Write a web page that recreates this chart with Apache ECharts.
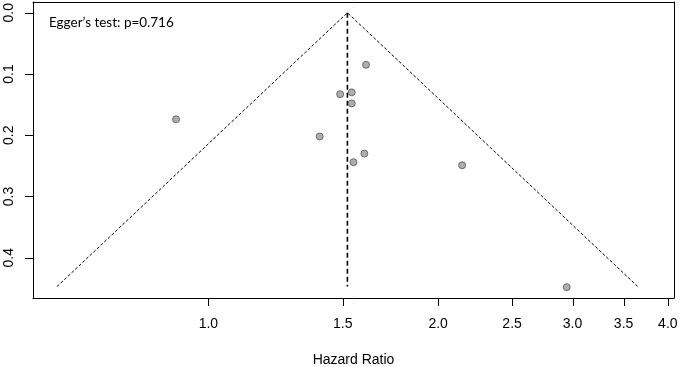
<!DOCTYPE html>
<html>
<head>
<meta charset="utf-8">
<script src="https://cdn.jsdelivr.net/npm/echarts@6/dist/echarts.min.js"></script>
<style>
  html, body { margin: 0; padding: 0; background: #fff; }
  #chart { width: 681px; height: 367px; }
</style>
</head>
<body>
<div id="chart"></div>
<script>
// study estimates
var hazardRatio = [1.609, 1.488, 1.541, 1.541, 0.907, 1.399, 1.601, 1.549, 2.150, 2.948]
var stdError = [0.085, 0.133, 0.130, 0.148, 0.174, 0.202, 0.230, 0.244, 0.249, 0.448]
var pooledHR = 1.521
var maxSE = 0.447
var xTicks = [1.0, 1.5, 2.0, 2.5, 3.0, 3.5, 4.0]
var yTicks = [0.0, 0.1, 0.2, 0.3, 0.4]
var eggerText = 'Egger\u2019s test: p=0.716'

var chart = echarts.init(document.getElementById('chart'))
var center = Math.log(pooledHR)
var xMin = Math.log(0.589)
var xMax = Math.log(4.075)
var yMin = -0.0175
var yMax = 0.4657

var points = []
for (var i = 0; i < hazardRatio.length; i++) {
  points.push([Math.log(hazardRatio[i]), stdError[i]])
}
// funnel: center +/- 1.96 * se
var funnel = [
  [center - 1.96 * maxSE, maxSE],
  [center, 0],
  [center + 1.96 * maxSE, maxSE]
]

var eggerGraphic = {
  type: 'text',
  left: 49,
  top: 16,
  style: { text: eggerText, fontFamily: 'Lato', fontSize: 13.5, fill: '#000' }
}

var boxLine = { show: true, onZero: false, lineStyle: { color: '#000', width: 1 } }

var option = {
  animation: false,
  grid: {
    left: 33, right: 7, top: 2, bottom: 69,
    outerBoundsMode: 'none'
  },
  xAxis: [{
    type: 'value',
    min: xMin,
    max: xMax,
    position: 'bottom',
    name: 'Hazard Ratio',
    nameLocation: 'middle',
    nameGap: 55,
    nameTextStyle: { fontFamily: 'Liberation Sans', fontSize: 14, color: '#000' },
    axisLine: boxLine,
    splitLine: { show: false },
    axisTick: { show: false },
    axisLabel: {
      margin: 19,
      fontFamily: 'Liberation Sans', fontSize: 14, color: '#000',
      customValues: xTicks.map(function(v) { return Math.log(v) }),
      formatter: function(v) { return Math.exp(v).toFixed(1) }
    }
  }, {
    type: 'value',
    min: xMin,
    max: xMax,
    position: 'top',
    axisLine: boxLine,
    axisTick: { show: false },
    axisLabel: { show: false },
    splitLine: { show: false }
  }],
  yAxis: [{
    type: 'value',
    inverse: true,
    min: yMin,
    max: yMax,
    position: 'left',
    axisLine: boxLine,
    splitLine: { show: false },
    axisTick: { show: false },
    axisLabel: {
      rotate: 90,
      margin: 17,
      fontFamily: 'Liberation Sans', fontSize: 14, color: '#000',
      customValues: yTicks,
      formatter: function(v) { return v.toFixed(1) }
    }
  }, {
    type: 'value',
    inverse: true,
    min: yMin,
    max: yMax,
    position: 'right',
    axisLine: boxLine,
    axisTick: { show: false },
    axisLabel: { show: false },
    splitLine: { show: false }
  }],
  graphic: [eggerGraphic],
  series: [
    {
      type: 'line',
      data: funnel,
      symbol: 'none',
      lineStyle: { color: '#000', width: 1, type: [3, 2] },
      z: 2
    },
    {
      type: 'line',
      data: [[center, 0], [center, maxSE]],
      symbol: 'none',
      lineStyle: { color: '#000', width: 1.6, type: [5, 3] },
      z: 2
    },
    {
      type: 'scatter',
      data: points,
      symbol: 'circle',
      symbolSize: 7,
      itemStyle: { color: '#9a9a9a', borderColor: '#555', borderWidth: 1 },
      z: 3
    }
  ]
}
chart.setOption(option)

// tick marks: positions come from the axes via convertToPixel
function drawTicks() {
  var g = [eggerGraphic]
  xTicks.forEach(function(v) {
    var p = chart.convertToPixel({ gridIndex: 0 }, [Math.log(v), yMax])
    var x = Math.round(p[0]) + 0.5
    g.push({ type: 'line', z: 100, silent: true,
      shape: { x1: x, y1: p[1], x2: x, y2: p[1] + 8 },
      style: { stroke: '#000', lineWidth: 1 } })
  })
  yTicks.forEach(function(v) {
    var p = chart.convertToPixel({ gridIndex: 0 }, [xMin, v])
    var y = Math.round(p[1]) + 0.5
    g.push({ type: 'line', z: 100, silent: true,
      shape: { x1: p[0], y1: y, x2: p[0] - 8, y2: y },
      style: { stroke: '#000', lineWidth: 1 } })
  })
  chart.setOption({ graphic: g }, { replaceMerge: ['graphic'] })
}
drawTicks()

window.addEventListener('resize', function() {
  chart.resize()
  drawTicks()
})
</script>
</body>
</html>
